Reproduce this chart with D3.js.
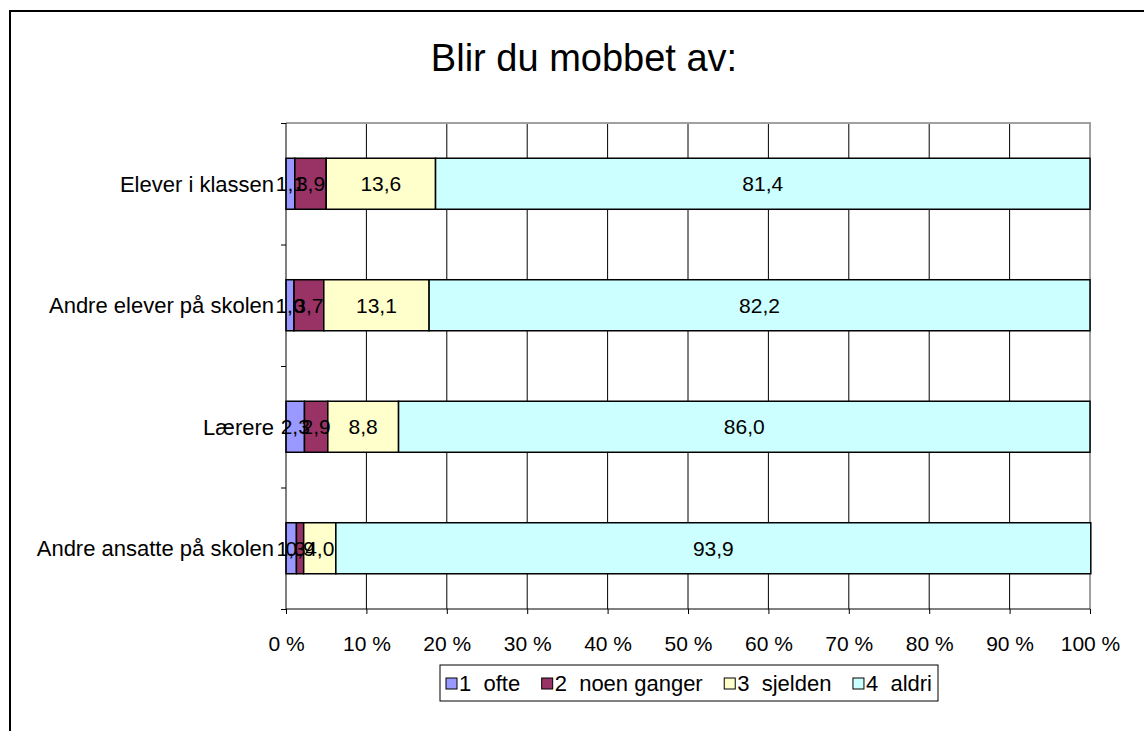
<!DOCTYPE html>
<html>
<head>
<meta charset="utf-8">
<script src="https://cdn.jsdelivr.net/npm/d3@7"></script>
<style>
  body { margin: 0; background: #fff; }
  text { font-family: Arial, "Liberation Sans", sans-serif; fill: #000; }
</style>
</head>
<body>
<svg id="chart" width="1144" height="731"></svg>
<script>
// data
var categories = ["Elever i klassen", "Andre elever på skolen", "Lærere", "Andre ansatte på skolen"];
var seriesNames = ["1  ofte", "2  noen ganger", "3  sjelden", "4  aldri"];
var ofte = [1.1, 1.0, 2.3, 1.3];
var noenGanger = [3.9, 3.7, 2.9, 0.9];
var sjelden = [13.6, 13.1, 8.8, 4.0];
var aldri = [81.4, 82.2, 86.0, 93.9];
var xTicks = [0, 10, 20, 30, 40, 50, 60, 70, 80, 90, 100];
var colors = ["#9999ff", "#993366", "#ffffcc", "#ccffff"];

var seriesValues = [ofte, noenGanger, sjelden, aldri];

// build a table for d3.stack
var table = categories.map(function(c, i) {
  var row = {name: c};
  seriesNames.forEach(function(s, j) { row[s] = seriesValues[j][i]; });
  return row;
});

var svg = d3.select("#chart");

// outer chart border (runs off the right and bottom edge)
svg.append("rect")
    .attr("x", 10)
    .attr("y", 11)
    .attr("width", 1160)
    .attr("height", 760)
    .attr("fill", "none")
    .attr("stroke", "#000")
    .attr("stroke-width", 2);

// title
svg.append("text")
    .attr("x", 584)
    .attr("y", 71)
    .attr("text-anchor", "middle")
    .style("font-size", "38px")
    .text("Blir du mobbet av:");

var plotLeft = 286, plotRight = 1090, plotTop = 123, plotBottom = 609;

var x = d3.scaleLinear().domain([0, 100]).range([plotLeft, plotRight]);
var y = d3.scaleBand()
    .domain(categories)
    .range([plotTop, plotBottom])
    .paddingInner(0.58)
    .paddingOuter(0.29);

// vertical gridlines
svg.append("g")
  .selectAll("line")
  .data(xTicks.slice(1, -1))
  .enter().append("line")
    .attr("x1", function(d) { return x(d); })
    .attr("x2", function(d) { return x(d); })
    .attr("y1", plotTop)
    .attr("y2", plotBottom)
    .attr("stroke", "#000")
    .attr("stroke-width", 1);

// plot area top / right edge in grey
svg.append("path")
    .attr("d", "M" + plotLeft + "," + plotTop + "H" + plotRight + "V" + plotBottom)
    .attr("fill", "none")
    .attr("stroke", "#a0a0a0")
    .attr("stroke-width", 2);

// stacked bars
var stack = d3.stack().keys(seriesNames);
var layers = stack(table);

var layer = svg.append("g")
  .selectAll("g")
  .data(layers)
  .enter().append("g")
    .attr("fill", function(d, i) { return colors[i]; });

layer.selectAll("rect")
  .data(function(d) { return d; })
  .enter().append("rect")
    .attr("x", function(d) { return x(d[0]); })
    .attr("y", function(d) { return y(d.data.name); })
    .attr("width", function(d) { return x(d[1]) - x(d[0]); })
    .attr("height", y.bandwidth())
    .attr("stroke", "#000")
    .attr("stroke-width", 1.5);

// value labels, centred in each segment (drawn after all bars)
var labels = svg.append("g");
layers.forEach(function(l) {
  labels.selectAll(null)
    .data(l)
    .enter().append("text")
      .attr("x", function(d) { return (x(d[0]) + x(d[1])) / 2; })
      .attr("y", function(d) { return y(d.data.name) + y.bandwidth() / 2; })
      .attr("dy", "0.36em")
      .attr("text-anchor", "middle")
      .style("font-size", "21px")
      .text(function(d) { return d3.format(".1f")(d[1] - d[0]).replace(".", ","); });
});

// X axis
var xAxis = svg.append("g")
    .attr("transform", "translate(0," + plotBottom + ")")
    .call(d3.axisBottom(x)
      .tickValues(xTicks)
      .tickSize(5)
      .tickFormat(function(d) { return d + " %"; }));
xAxis.select(".domain").attr("stroke", "#000").attr("d", "M" + plotLeft + ",0H" + plotRight);
xAxis.selectAll(".tick line").attr("stroke", "#000");
xAxis.selectAll(".tick text")
    .attr("y", 27)
    .attr("dy", "0.71em")
    .style("font-size", "21px")
    .style("font-family", "Arial, 'Liberation Sans', sans-serif");

// Y axis: ticks between categories, labels drawn separately
var yEdges = d3.scaleLinear().domain([0, categories.length]).range([plotTop, plotBottom]);
var yAxis = svg.append("g")
    .attr("transform", "translate(" + plotLeft + ",0)")
    .call(d3.axisLeft(yEdges)
      .tickValues(d3.range(categories.length + 1))
      .tickSize(5)
      .tickFormat(""));
yAxis.select(".domain").attr("stroke", "#000").attr("d", "M0," + plotTop + "V" + plotBottom);
yAxis.selectAll(".tick line").attr("stroke", "#000");

svg.append("g")
  .selectAll("text")
  .data(categories)
  .enter().append("text")
    .attr("x", plotLeft - 12)
    .attr("y", function(d) { return y(d) + y.bandwidth() / 2; })
    .attr("dy", "0.36em")
    .attr("text-anchor", "end")
    .style("font-size", "22px")
    .text(function(d) { return d; });

// legend: measure items, then spread them across the box
var boxX = 440, boxW = 498;
var legend = svg.append("g");
legend.append("rect")
    .attr("x", boxX)
    .attr("y", 665)
    .attr("width", boxW)
    .attr("height", 36)
    .attr("fill", "#fff")
    .attr("stroke", "#000")
    .attr("stroke-width", 1);

var item = legend.selectAll("g.item")
  .data(seriesNames)
  .enter().append("g")
    .attr("class", "item");

item.append("rect")
    .attr("x", 0)
    .attr("y", -5)
    .attr("width", 11)
    .attr("height", 11)
    .attr("fill", function(d, i) { return colors[i]; })
    .attr("stroke", "#000")
    .attr("stroke-width", 1);

var itemText = item.append("text")
    .attr("x", 13)
    .attr("dy", "0.38em")
    .attr("xml:space", "preserve")
    .style("white-space", "pre")
    .style("font-size", "22px")
    .text(function(d) { return d; });

var widths = itemText.nodes().map(function(n) { return 13 + n.getComputedTextLength(); });
var gap = (boxW - 12 - d3.sum(widths)) / (widths.length - 1);
var cursor = boxX + 6;
item.attr("transform", function(d, i) {
  var t = "translate(" + cursor + ",683)";
  cursor += widths[i] + gap;
  return t;
});
</script>
</body>
</html>
